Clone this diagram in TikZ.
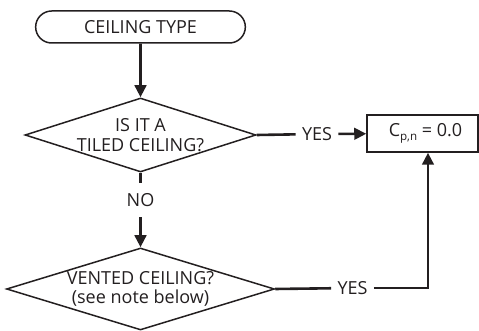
\documentclass[tikz,border=0pt]{standalone}
\usepackage{fontspec}
\setmainfont{Open Sans}
\usetikzlibrary{arrows.meta,shapes.geometric,shapes.misc,positioning}
\definecolor{ink}{HTML}{231F20}
\newcommand\lowidx[1]{\raisebox{-0.35ex}{\fontsize{5.8pt}{6pt}\selectfont #1}}

\begin{document}
\begin{tikzpicture}[x=0.5pt,y=-0.5pt,font=\fontsize{9pt}{9.7pt}\selectfont,color=ink,
  term/.style={draw,rounded rectangle,line width=0.75pt,minimum width=111.5pt,minimum height=16pt},
  dec/.style={draw,diamond,line width=0.75pt,inner sep=0pt},
  res/.style={draw,rectangle,line width=0.75pt,minimum width=55.5pt,minimum height=18.5pt},
  lbl/.style={inner sep=3pt},
  flow/.style={line width=1.3pt},
  arr/.style={-{Triangle[width=5.8pt,length=6pt]},line width=1.3pt}]
\useasboundingbox (0,0) rectangle (479,331);
\node[term](t) at(140.5,27){CEILING TYPE};
\node[dec,minimum width=115.5pt,minimum height=37pt](d1) at(140.5,135){};
\node[align=center](q1) at(d1){IS IT A\\TILED CEILING?};
\node[dec,minimum width=134pt,minimum height=41pt](d2) at(140.5,289){};
\node[align=center](q2) at(d2){VENTED CEILING?\\(see note below)};
\node[res](c) at(422.5,133.5){\hspace*{3pt}C\lowidx{p,n} = 0.0};
\node[lbl](y1) at(317,134){YES};
\node[lbl](y2) at(352.5,288){YES};
\node[lbl,inner ysep=5pt](n) at(140.5,200){NO};
\coordinate (k) at(428,288);
\draw[arr](t)--(d1);
\draw[flow](d1.east)--(y1);
\draw[arr](y1)--(c);
\draw[flow](d1.south)--(n);
\draw[arr](n)--(d2);
\draw[flow](d2.east)--(y2);
\draw[arr](y2)--(k)--(c.south -| k);
\end{tikzpicture}
\end{document}
